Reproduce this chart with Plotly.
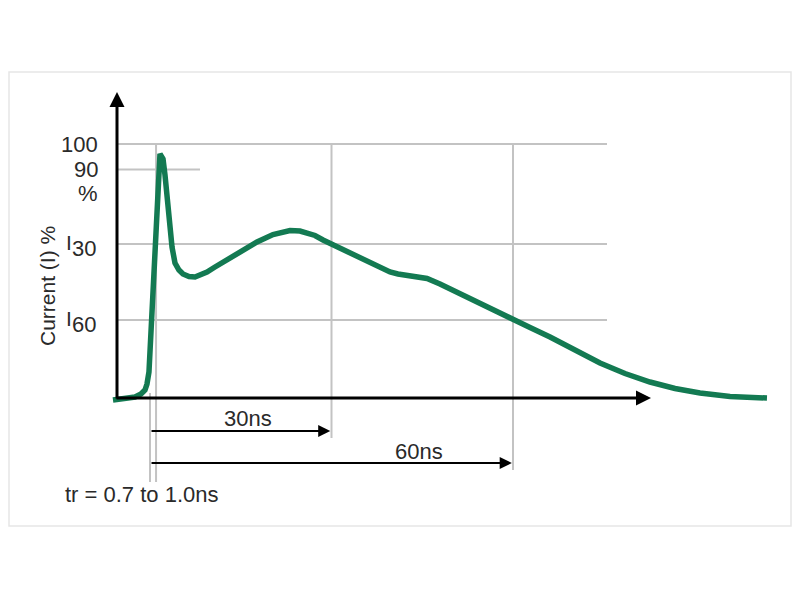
import plotly.graph_objects as go

# ---- data (time in ns, current in % of peak) ----
PX0, PXS = 150.0, 6.05      # only used to convert the read-off pixel traces
PY0, PYS = 398.0, 2.54
OFF = 8                      # page body margin of the browser

curve_px = [(113, 400), (125, 399), (135, 397), (141, 394), (145, 390), (147, 384),
            (149, 372), (160, 154), (163, 159), (165, 175), (168, 213), (172, 247),
            (175, 263), (179, 270), (183, 274), (189, 276.5), (195, 277), (201, 275),
            (207, 272), (215, 267), (223, 262), (240, 252), (257, 242), (273, 234.5),
            (290, 230.5), (300, 231), (307, 232.5), (315, 235.5), (323, 240), (340, 248),
            (353, 254), (363, 258), (373, 263), (382, 268), (390, 272), (398, 274),
            (407, 275), (417, 276.5), (427, 278.5), (440, 284), (460, 294), (480, 303.5),
            (500, 313), (513, 319.5), (530, 327.5), (550, 337), (575, 350), (600, 363),
            (625, 373.5), (650, 382), (675, 388.5), (700, 393), (730, 396.5), (767, 398)]
time_ns = [round((p[0] - PX0) / PXS, 2) for p in curve_px]
current_pct = [round((PY0 - p[1]) / PYS, 2) for p in curve_px]

level_values = [100, 90, 60.6, 30.7]
level_labels = ["100", "90", "I30", "I60"]
time_marks = [0, 1.0, 30, 60]
mark_labels = ["30ns", "60ns"]
rise_label = "tr = 0.7 to 1.0ns"
y_title = "Current (I) %"

GREEN = "#137a52"
GRID = "#c3c3c3"
TXT = "#2a2a2a"
FONT = "Liberation Sans, Arial, sans-serif"


def X(px):
    return (px - PX0) / PXS


def Y(py):
    return (PY0 - py) / PYS


def PX(px):
    return (px - OFF) / 800


def PY(py):
    return 1 - (py - OFF) / 600


x_range = [X(OFF), X(800 + OFF)]
y_range = [Y(600 + OFF), Y(OFF)]

fig = go.Figure()

shapes = []
# outer frame
shapes.append(dict(type="rect", xref="paper", yref="paper",
                   x0=PX(9), x1=PX(791), y0=PY(526), y1=PY(72),
                   line=dict(color="#e6e6e6", width=1.5), layer="below"))
# horizontal grid lines
for v in level_values:
    x_end = X(200) if v == 90 else X(607)
    shapes.append(dict(type="line", x0=X(117), x1=x_end, y0=v, y1=v,
                       line=dict(color=GRID, width=2), layer="below"))
# vertical grid / marker lines
vert_spans = {0: (Y(393), Y(482)), 1.0: (100, Y(482)), 30: (100, Y(438)), 60: (100, Y(470))}
for t in time_marks:
    y0, y1 = vert_spans[t]
    shapes.append(dict(type="line", x0=t, x1=t, y0=y0, y1=y1,
                       line=dict(color=GRID, width=2), layer="below"))
fig.update_layout(shapes=shapes)

# curve
fig.add_trace(go.Scatter(x=time_ns, y=current_pct, mode="lines",
                         line=dict(color=GREEN, width=5.5), hoverinfo="skip",
                         showlegend=False))

ann = []
# axis arrows
ann.append(dict(x=X(117), y=Y(92), ax=X(117), ay=Y(400), xref="x", yref="y",
                axref="x", ayref="y", showarrow=True, arrowhead=2, arrowsize=1,
                arrowwidth=3, arrowcolor="black", text=""))
ann.append(dict(x=X(651), y=0, ax=X(115), ay=0, xref="x", yref="y",
                axref="x", ayref="y", showarrow=True, arrowhead=2, arrowsize=1,
                arrowwidth=3, arrowcolor="black", text=""))
# 30ns / 60ns arrows
for t, py in [(30, 431), (60, 463)]:
    ann.append(dict(x=t - 0.2, y=Y(py), ax=0, ay=Y(py), xref="x", yref="y",
                    axref="x", ayref="y", showarrow=True, arrowhead=2, arrowsize=1.1,
                    arrowwidth=2.2, arrowcolor="black", text=""))
# labels
ann.append(dict(x=X(248), y=Y(418), xref="x", yref="y", text=mark_labels[0],
                xanchor="center", yanchor="middle",
                showarrow=False, font=dict(size=22, color=TXT, family=FONT)))
ann.append(dict(x=X(419), y=Y(451), xref="x", yref="y", text=mark_labels[1],
                xanchor="center", yanchor="middle",
                showarrow=False, font=dict(size=22, color=TXT, family=FONT)))
ann.append(dict(x=X(141), y=Y(494), xref="x", yref="y", text=rise_label,
                xanchor="center", yanchor="middle",
                showarrow=False, font=dict(size=22, color=TXT, family=FONT)))
# y labels
for v, lab in zip(level_values, level_labels):
    if lab.startswith("I"):
        ann.append(dict(x=PX(98), y=v - 1.8, xref="paper", yref="y", xanchor="right",
                        yanchor="middle", text=lab[1:], showarrow=False,
                        font=dict(size=22, color=TXT, family=FONT)))
        ann.append(dict(x=PX(74), y=v + 0.6, xref="paper", yref="y", xanchor="right",
                        yanchor="middle", text="I", showarrow=False,
                        font=dict(size=21, color=TXT, family=FONT)))
    else:
        ann.append(dict(x=PX(100), y=v, xref="paper", yref="y", xanchor="right",
                        yanchor="middle", text=lab, showarrow=False,
                        font=dict(size=22, color=TXT, family=FONT)))
ann.append(dict(x=PX(100), y=Y(193), xref="paper", yref="y", xanchor="right",
                yanchor="middle", text="%", showarrow=False,
                font=dict(size=22, color=TXT, family=FONT)))
ann.append(dict(x=PX(47), y=Y(286), xref="paper", yref="y", text=y_title,
                xanchor="center", yanchor="middle", textangle=-90, showarrow=False,
                font=dict(size=21, color=TXT, family=FONT)))
fig.update_layout(annotations=ann)

fig.update_layout(
    width=800, height=600, margin=dict(l=0, r=0, t=0, b=0),
    paper_bgcolor="white", plot_bgcolor="white",
    xaxis=dict(range=x_range, visible=False, fixedrange=True),
    yaxis=dict(range=y_range, visible=False, fixedrange=True),
)

fig.write_html("out.html")
